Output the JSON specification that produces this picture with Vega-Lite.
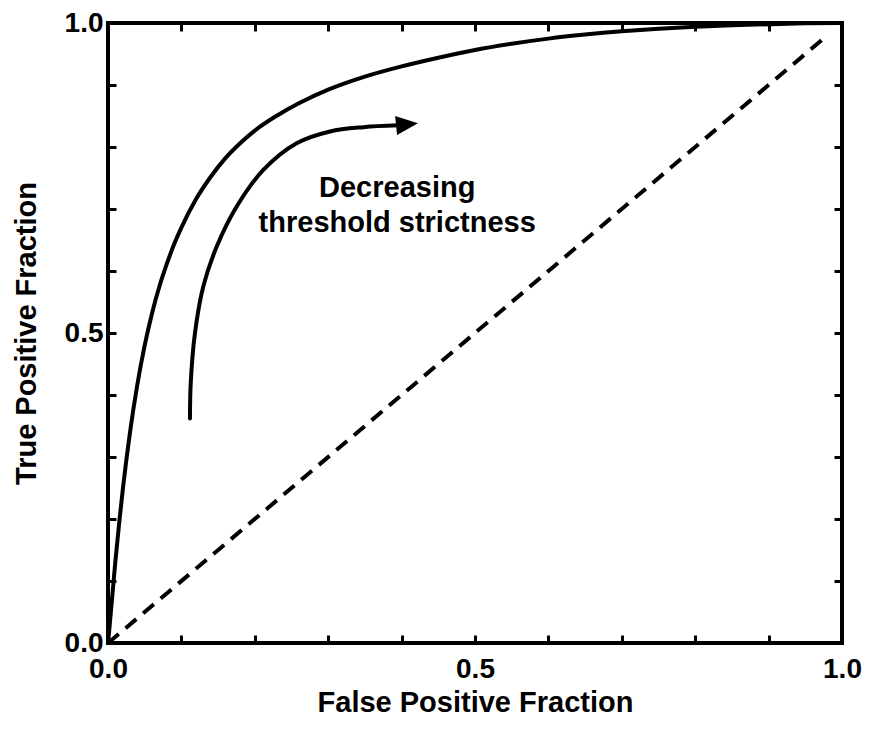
{
  "$schema": "https://vega.github.io/schema/vega-lite/v6.json",
  "width": 734,
  "height": 620,
  "autosize": {"type": "none"},
  "padding": {"left": 108, "top": 23, "right": 29, "bottom": 88},
  "background": "white",
  "config": {
    "view": {"stroke": "black", "strokeWidth": 4},
    "font": "Liberation Sans"
  },
  "datasets": {
    "roc": [
      {"x": 0, "y": 0},
      {"x": 0.002, "y": 0.025},
      {"x": 0.005, "y": 0.065},
      {"x": 0.01, "y": 0.131},
      {"x": 0.015, "y": 0.191},
      {"x": 0.02, "y": 0.246},
      {"x": 0.03, "y": 0.34},
      {"x": 0.04, "y": 0.417},
      {"x": 0.05, "y": 0.48},
      {"x": 0.06, "y": 0.532},
      {"x": 0.07, "y": 0.575},
      {"x": 0.08, "y": 0.611},
      {"x": 0.09, "y": 0.643},
      {"x": 0.1, "y": 0.67},
      {"x": 0.12, "y": 0.716},
      {"x": 0.14, "y": 0.752},
      {"x": 0.16, "y": 0.782},
      {"x": 0.18, "y": 0.806},
      {"x": 0.2, "y": 0.8265},
      {"x": 0.23, "y": 0.8505},
      {"x": 0.26, "y": 0.8705},
      {"x": 0.3, "y": 0.8925},
      {"x": 0.35, "y": 0.9135},
      {"x": 0.4, "y": 0.93},
      {"x": 0.45, "y": 0.944},
      {"x": 0.5, "y": 0.9565},
      {"x": 0.55, "y": 0.9665},
      {"x": 0.6, "y": 0.9748},
      {"x": 0.65, "y": 0.9813},
      {"x": 0.7, "y": 0.9866},
      {"x": 0.75, "y": 0.9908},
      {"x": 0.8, "y": 0.994},
      {"x": 0.85, "y": 0.9963},
      {"x": 0.9, "y": 0.9981},
      {"x": 0.95, "y": 0.9994},
      {"x": 1.0, "y": 1.0}
    ],
    "diag": [
      {"x": 0, "y": 0},
      {"x": 0.98, "y": 0.98}
    ],
    "arrow": [
      {"i": 0, "x": 0.1117, "y": 0.362},
      {"i": 1, "x": 0.1127, "y": 0.419},
      {"i": 2, "x": 0.1185, "y": 0.5},
      {"i": 3, "x": 0.1298, "y": 0.575},
      {"i": 4, "x": 0.148, "y": 0.639},
      {"i": 5, "x": 0.1753, "y": 0.704},
      {"i": 6, "x": 0.2116, "y": 0.763},
      {"i": 7, "x": 0.257, "y": 0.806},
      {"i": 8, "x": 0.3025, "y": 0.825},
      {"i": 9, "x": 0.348, "y": 0.832},
      {"i": 10, "x": 0.395, "y": 0.835}
    ],
    "head": [
      {"x": 0.4074, "y": 0.8365}
    ],
    "label": [
      {"x": 0.394, "y": 0.719, "t": "Decreasing"},
      {"x": 0.394, "y": 0.663, "t": "threshold strictness"}
    ]
  },
  "resolve": {"axis": {"x": "independent", "y": "independent"}},
  "layer": [
    {
      "data": {"name": "roc"},
      "mark": {"type": "line", "interpolate": "monotone", "strokeWidth": 4, "color": "black"},
      "encoding": {
        "x": {
          "field": "x", "type": "quantitative",
          "scale": {"domain": [0, 1], "nice": false},
          "axis": {
            "orient": "bottom",
            "values": [0, 0.1, 0.2, 0.3, 0.4, 0.5, 0.6, 0.7, 0.8, 0.9, 1],
            "labelExpr": "(datum.value < 0.001 || abs(datum.value - 0.5) < 0.001 || datum.value > 0.999) ? format(datum.value, '.1f') : ''",
            "labelOverlap": false, "labelFlush": false,
            "domain": false, "grid": false,
            "tickColor": "black", "tickWidth": 3, "tickSize": -8,
            "labelFont": "Liberation Sans", "labelFontSize": 28, "labelFontWeight": "bold", "labelColor": "black",
            "labelPadding": 20,
            "title": "False Positive Fraction",
            "titleFont": "Liberation Sans", "titleFontSize": 29, "titleFontWeight": "bold", "titleColor": "black",
            "titlePadding": 5
          }
        },
        "y": {
          "field": "y", "type": "quantitative",
          "scale": {"domain": [0, 1], "nice": false},
          "axis": {
            "orient": "left",
            "values": [0, 0.1, 0.2, 0.3, 0.4, 0.5, 0.6, 0.7, 0.8, 0.9, 1],
            "labelExpr": "(datum.value < 0.001 || abs(datum.value - 0.5) < 0.001 || datum.value > 0.999) ? format(datum.value, '.1f') : ''",
            "labelOverlap": false, "labelFlush": false,
            "domain": false, "grid": false,
            "tickColor": "black", "tickWidth": 3, "tickSize": -8,
            "labelFont": "Liberation Sans", "labelFontSize": 28, "labelFontWeight": "bold", "labelColor": "black",
            "labelPadding": 13,
            "title": "True Positive Fraction",
            "titleFont": "Liberation Sans", "titleFontSize": 29, "titleFontWeight": "bold", "titleColor": "black",
            "titlePadding": 23
          }
        }
      }
    },
    {
      "data": {"name": "diag"},
      "mark": {"type": "line", "strokeWidth": 4, "color": "black", "strokeDash": [14, 9]},
      "encoding": {
        "x": {
          "field": "x", "type": "quantitative",
          "axis": {
            "orient": "top",
            "values": [0, 0.1, 0.2, 0.3, 0.4, 0.5, 0.6, 0.7, 0.8, 0.9, 1],
            "labels": false, "domain": false, "grid": false,
            "tickColor": "black", "tickWidth": 3, "tickSize": -8,
            "title": null
          }
        },
        "y": {
          "field": "y", "type": "quantitative",
          "axis": {
            "orient": "right",
            "values": [0, 0.1, 0.2, 0.3, 0.4, 0.5, 0.6, 0.7, 0.8, 0.9, 1],
            "labels": false, "domain": false, "grid": false,
            "tickColor": "black", "tickWidth": 3, "tickSize": -8,
            "title": null
          }
        }
      }
    },
    {
      "data": {"name": "arrow"},
      "mark": {"type": "line", "interpolate": "catmull-rom", "strokeWidth": 4, "color": "black", "strokeCap": "round"},
      "encoding": {
        "x": {"field": "x", "type": "quantitative", "axis": null},
        "y": {"field": "y", "type": "quantitative", "axis": null},
        "order": {"field": "i", "type": "quantitative"}
      }
    },
    {
      "data": {"name": "head"},
      "mark": {"type": "point", "shape": "M -1,-0.86 L 1,0 L -1,0.86 Z", "size": 484, "angle": -6, "filled": true, "color": "black", "opacity": 1, "strokeWidth": 0},
      "encoding": {
        "x": {"field": "x", "type": "quantitative", "axis": null},
        "y": {"field": "y", "type": "quantitative", "axis": null}
      }
    },
    {
      "data": {"name": "label"},
      "mark": {"type": "text", "font": "Liberation Sans", "fontSize": 29, "fontWeight": "bold", "align": "center", "baseline": "alphabetic", "color": "black"},
      "encoding": {
        "x": {"field": "x", "type": "quantitative", "axis": null},
        "y": {"field": "y", "type": "quantitative", "axis": null},
        "text": {"field": "t", "type": "nominal"}
      }
    }
  ]
}
